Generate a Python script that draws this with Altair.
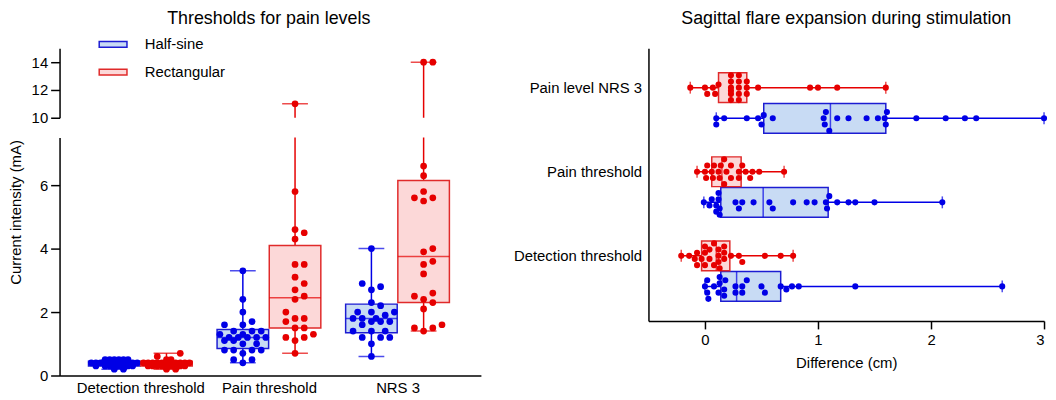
import math
import altair as alt
import pandas as pd

# ---------------- data ----------------
left_groups = ["Detection threshold", "Pain threshold", "NRS 3"]
series_names = ["Half-sine", "Rectangular"]

# current intensity (mA), individual subjects
det_half_sine = [0.2, 0.2, 0.3, 0.3, 0.3, 0.3, 0.3, 0.3, 0.4, 0.4, 0.4, 0.4, 0.4,
                 0.4, 0.4, 0.4, 0.4, 0.4, 0.4, 0.5, 0.5, 0.5, 0.5, 0.5, 0.5]
det_rect = [0.2, 0.2, 0.3, 0.3, 0.3, 0.3, 0.3, 0.3, 0.3, 0.4, 0.4, 0.4, 0.4,
            0.4, 0.4, 0.4, 0.4, 0.4, 0.4, 0.4, 0.4, 0.5, 0.5, 0.6, 0.7]
pain_half_sine = [3.3, 2.4, 2.0, 1.7, 1.6, 1.6, 1.4, 1.4, 1.4, 1.3, 1.3, 1.2, 1.2,
                  1.2, 1.2, 1.2, 1.1, 1.1, 1.0, 1.0, 0.8, 0.8, 0.8, 0.8, 0.7, 0.5, 0.5, 0.4]
pain_rect = [11.0, 5.8, 4.6, 4.5, 4.3, 3.5, 3.5, 3.1, 2.9, 2.7, 2.5, 2.4, 2.0,
             1.8, 1.8, 1.7, 1.5, 1.5, 1.3, 1.2, 1.2, 1.1, 0.7]
nrs_half_sine = [4.0, 2.9, 2.8, 2.7, 2.3, 2.2, 2.0, 2.0, 2.0, 1.9, 1.8, 1.8, 1.8,
                 1.7, 1.7, 1.7, 1.6, 1.4, 1.4, 1.4, 1.2, 1.2, 1.2, 1.0, 0.6]
nrs_rect = [14.0, 14.0, 6.6, 6.3, 5.8, 5.6, 5.6, 5.5, 4.0, 3.9, 3.6, 3.5, 3.2,
            2.6, 2.5, 2.4, 2.3, 2.1, 1.6, 1.5, 1.5, 1.4]

# box statistics: [min, q1, median, q3, max]
box_det_half_sine = [0.2, 0.3, 0.4, 0.45, 0.5]
box_det_rect = [0.2, 0.3, 0.4, 0.45, 0.7]
box_pain_half_sine = [0.4, 0.85, 1.2, 1.45, 3.3]
box_pain_rect = [0.7, 1.5, 2.45, 4.1, 11.0]
box_nrs_half_sine = [0.6, 1.35, 1.8, 2.25, 4.0]
box_nrs_rect = [1.4, 2.3, 3.75, 6.15, 14.0]

right_groups = ["Pain level NRS 3", "Pain threshold", "Detection threshold"]

# sagittal flare expansion difference (cm)
flare_nrs_half_sine = [0.10, 0.10, 0.17, 0.37, 0.47, 0.50, 0.52, 0.60, 1.05, 1.06, 1.07, 1.10,
                       1.17, 1.27, 1.43, 1.53, 1.59, 1.60, 1.61, 1.87, 2.13, 2.30, 2.40, 3.00]
flare_nrs_rect = [-0.13, 0.00, 0.02, 0.07, 0.09, 0.12, 0.23, 0.23, 0.23, 0.23, 0.23, 0.23,
                  0.30, 0.30, 0.30, 0.30, 0.30, 0.37, 0.37, 0.37, 0.47, 0.93, 1.00, 1.17, 1.60]
flare_pain_half_sine = [-0.01, 0.04, 0.06, 0.10, 0.10, 0.12, 0.12, 0.13, 0.13, 0.27, 0.30, 0.33,
                        0.43, 0.57, 0.60, 0.78, 0.90, 0.97, 1.07, 1.08, 1.10, 1.17, 1.27, 1.33,
                        1.50, 2.10]
flare_pain_rect = [-0.07, 0.00, 0.01, 0.02, 0.06, 0.07, 0.08, 0.12, 0.13, 0.14, 0.17, 0.17,
                   0.19, 0.23, 0.23, 0.30, 0.30, 0.33, 0.36, 0.40, 0.42, 0.48, 0.70]
flare_det_half_sine = [0.00, 0.02, 0.02, 0.03, 0.08, 0.12, 0.13, 0.13, 0.17, 0.17, 0.18, 0.27,
                       0.27, 0.33, 0.33, 0.37, 0.50, 0.53, 0.67, 0.72, 0.77, 0.83, 1.33, 2.63]
flare_det_rect = [-0.21, -0.14, -0.09, -0.07, -0.07, -0.03, 0.00, 0.00, 0.00, 0.04, 0.04, 0.08,
                  0.08, 0.12, 0.12, 0.12, 0.13, 0.17, 0.17, 0.17, 0.23, 0.30, 0.33, 0.53,
                  0.67, 0.78]

box_flare_nrs_half_sine = [0.10, 0.52, 1.11, 1.60, 3.00]
box_flare_nrs_rect = [-0.13, 0.12, 0.23, 0.37, 1.60]
box_flare_pain_half_sine = [-0.01, 0.14, 0.515, 1.09, 2.10]
box_flare_pain_rect = [-0.07, 0.06, 0.15, 0.32, 0.70]
box_flare_det_half_sine = [0.00, 0.14, 0.28, 0.67, 2.63]
box_flare_det_rect = [-0.21, -0.03, 0.10, 0.22, 0.78]

left_values = {
    "Detection threshold": {"Half-sine": det_half_sine, "Rectangular": det_rect},
    "Pain threshold": {"Half-sine": pain_half_sine, "Rectangular": pain_rect},
    "NRS 3": {"Half-sine": nrs_half_sine, "Rectangular": nrs_rect},
}
left_boxes = {
    "Detection threshold": {"Half-sine": box_det_half_sine, "Rectangular": box_det_rect},
    "Pain threshold": {"Half-sine": box_pain_half_sine, "Rectangular": box_pain_rect},
    "NRS 3": {"Half-sine": box_nrs_half_sine, "Rectangular": box_nrs_rect},
}
right_values = {
    "Pain level NRS 3": {"Half-sine": flare_nrs_half_sine, "Rectangular": flare_nrs_rect},
    "Pain threshold": {"Half-sine": flare_pain_half_sine, "Rectangular": flare_pain_rect},
    "Detection threshold": {"Half-sine": flare_det_half_sine, "Rectangular": flare_det_rect},
}
right_boxes = {
    "Pain level NRS 3": {"Half-sine": box_flare_nrs_half_sine, "Rectangular": box_flare_nrs_rect},
    "Pain threshold": {"Half-sine": box_flare_pain_half_sine, "Rectangular": box_flare_pain_rect},
    "Detection threshold": {"Half-sine": box_flare_det_half_sine, "Rectangular": box_flare_det_rect},
}

# ---------------- styling ----------------
FONT = "Liberation Sans"
DOT_COLORS = ["#0000e6", "#e60000"]
LINE_COLORS = ["#1c1cd2", "#e02a2a"]
FILL_COLORS = ["#c8dbf4", "#fcd8d8"]


def swarm(values, px_per_unit, diam, step, max_half):
    """Beeswarm offsets (pixels) so that dots of equal value sit side by side."""
    order = sorted(range(len(values)), key=lambda i: values[i])
    cands = [0.0]
    k = 1
    while k * step <= max_half + 1e-9:
        cands += [k * step, -k * step]
        k += 1
    placed, out = [], [0.0] * len(values)
    for i in order:
        p = values[i] * px_per_unit
        best, best_d = 0.0, -1.0
        for c in cands:
            d = min([math.hypot(p - q, c - o) for q, o in placed] or [1e9])
            if d >= diam:
                best = c
                break
            if d > best_d:
                best, best_d = c, d
        out[i] = best
        placed.append((p, best))
    return out


# ---------------- left tables ----------------
L_PX_Y, L_PX_X, L_SHIFT = 32.0, 133.0, 0.203
pts, boxes = [], []
for gi, g in enumerate(left_groups):
    for si, s in enumerate(series_names):
        base = gi + (L_SHIFT if si else -L_SHIFT)
        vals = left_values[g][s]
        for v, o in zip(vals, swarm(vals, L_PX_Y, 9.0, 4.75, 24.0)):
            pts.append({"group": g, "series": s, "value": v, "xpos": base + o / L_PX_X})
        st = left_boxes[g][s]
        boxes.append({"group": g, "series": s, "xc": base, "lo": st[0], "q1": st[1],
                      "med": st[2], "q3": st[3], "hi": st[4]})
left_pts = pd.DataFrame(pts)
left_box = pd.DataFrame(boxes)

# ---------------- right tables ----------------
R_PX_X, R_PX_Y, R_SHIFT = 114.0, 88.0, 0.364
pts, boxes = [], []
for gi, g in enumerate(right_groups):
    for si, s in enumerate(series_names):
        base = gi + (0.0 if s == "Rectangular" else R_SHIFT)
        vals = right_values[g][s]
        for v, o in zip(vals, swarm(vals, R_PX_X, 6.5, 3.25, 15.0)):
            pts.append({"group": g, "series": s, "value": v, "ypos": base + o / R_PX_Y})
        st = right_boxes[g][s]
        boxes.append({"group": g, "series": s, "yc": base, "lo": st[0], "q1": st[1],
                      "med": st[2], "q3": st[3], "hi": st[4]})
right_pts = pd.DataFrame(pts)
right_box = pd.DataFrame(boxes)


def label_expr(names):
    expr = "''"
    for i in reversed(range(len(names))):
        expr = f"datum.value == {i} ? '{names[i]}' : {expr}"
    return expr


# the dark colour scale lists the domain in reverse order so that its (hidden) legend
# is kept apart from the fill/stroke legend
color_enc = alt.Color("series:N",
                      scale=alt.Scale(domain=series_names[::-1], range=DOT_COLORS[::-1]),
                      legend=None)


def fill_stroke(legend):
    return dict(
        fill=alt.Fill("series:N", scale=alt.Scale(domain=series_names, range=FILL_COLORS), legend=legend),
        stroke=alt.Stroke("series:N", scale=alt.Scale(domain=series_names, range=LINE_COLORS), legend=legend),
    )


axis_common = dict(labelFont=FONT, labelFontSize=15, labelColor="black", domainColor="black",
                   domainWidth=1.5, tickColor="black", tickWidth=1.5, grid=False,
                   labelOverlap=False, titleFont=FONT, titleFontSize=15,
                   titleFontWeight="normal", titleColor="black")


def left_panel(ydomain, height, yvalues, x_axis, legend, ytitle):
    xsc = alt.Scale(domain=[-0.59, 2.61], nice=False, zero=False)
    ysc = alt.Scale(domain=ydomain, nice=False, zero=False)
    if ytitle:
        yaxis = alt.Axis(values=yvalues, format="d", tickSize=9, labelPadding=3, title=ytitle,
                         titleX=-36, titleY=75, titleAngle=270, titleAlign="center",
                         titleBaseline="bottom", **axis_common)
    else:
        yaxis = alt.Axis(values=yvalues, format="d", tickSize=9, labelPadding=3, title=None,
                         **axis_common)

    def X(field):
        return alt.X(field, scale=xsc, axis=x_axis)

    def Y(field):
        return alt.Y(field, scale=ysc, axis=yaxis)

    bb = alt.Chart(left_box)
    whisk = bb.mark_rule(clip=True, strokeWidth=1.5).encode(
        x=X("xc:Q"), y=Y("lo:Q"), y2="hi:Q", color=color_enc)
    cap_lo = bb.mark_tick(orient="horizontal", size=26, thickness=1.5, clip=True).encode(
        x=X("xc:Q"), y=Y("lo:Q"), color=color_enc)
    cap_hi = bb.mark_tick(orient="horizontal", size=26, thickness=1.5, clip=True).encode(
        x=X("xc:Q"), y=Y("hi:Q"), color=color_enc)
    box = bb.mark_bar(size=52, clip=True, strokeWidth=1.5).encode(
        x=X("xc:Q"), y=Y("q1:Q"), y2="q3:Q", **fill_stroke(legend))
    med = bb.mark_tick(orient="horizontal", size=52, thickness=1.5, clip=True).encode(
        x=X("xc:Q"), y=Y("med:Q"), color=color_enc)
    dots = alt.Chart(left_pts).mark_circle(size=46, opacity=1, clip=True).encode(
        x=X("xpos:Q"), y=Y("value:Q"), color=color_enc)
    return alt.layer(whisk, cap_lo, cap_hi, box, med, dots).properties(width=425, height=height)


legend = alt.Legend(title=None, orient="none", legendX=39, legendY=-19,
                    symbolType="M-1,-0.2H1V0.2H-1Z", symbolSize=784, symbolStrokeWidth=1.5,
                    labelFont=FONT, labelFontSize=15, labelColor="black",
                    labelOffset=17, rowPadding=5)

x_axis_left = alt.Axis(values=[0, 1, 2], labelExpr=label_expr(left_groups), ticks=False, tickSize=0,
                       labelPadding=5, title=None, **axis_common)

upper = left_panel([10, 15], 70, [10, 12, 14], None, legend, None)
lower = left_panel([0, 7.5], 240, [0, 2, 4, 6], x_axis_left, None, "Current intensity (mA)")

left = alt.vconcat(upper, lower, spacing=20, bounds="flush").properties(
    title=alt.Title("Thresholds for pain levels", fontSize=18, font=FONT, fontWeight="normal",
                    color="black", anchor="middle", offset=21, dx=24)
)

# ---------------- right panel ----------------
rxs = alt.Scale(domain=[-0.5, 3], nice=False, zero=False)
rys = alt.Scale(domain=[-0.409, 2.716], nice=False, zero=False, reverse=True)
rx_axis = alt.Axis(values=[0, 1, 2, 3], format="d", tickSize=8, labelPadding=4,
                   title="Difference (cm)", titlePadding=8, **axis_common)
ry_axis = alt.Axis(values=[0, 1, 2], labelExpr=label_expr(right_groups), ticks=False, tickSize=0,
                   labelPadding=7, title=None, **axis_common)


def RX(field):
    return alt.X(field, scale=rxs, axis=rx_axis)


def RY(field):
    return alt.Y(field, scale=rys, axis=ry_axis)


rb = alt.Chart(right_box)
r_whisk = rb.mark_rule(strokeWidth=1.5).encode(
    x=RX("lo:Q"), x2="hi:Q", y=RY("yc:Q"), color=color_enc)
r_cap_lo = rb.mark_tick(orient="vertical", size=12, thickness=1.5).encode(
    x=RX("lo:Q"), y=RY("yc:Q"), color=color_enc)
r_cap_hi = rb.mark_tick(orient="vertical", size=12, thickness=1.5).encode(
    x=RX("hi:Q"), y=RY("yc:Q"), color=color_enc)
r_box = rb.mark_bar(size=30, strokeWidth=1.5).encode(
    x=RX("q1:Q"), x2="q3:Q", y=RY("yc:Q"), **fill_stroke(None))
r_med = rb.mark_tick(orient="vertical", size=30, thickness=1.5).encode(
    x=RX("med:Q"), y=RY("yc:Q"), color=color_enc)
r_dots = alt.Chart(right_pts).mark_circle(size=38, opacity=1).encode(
    x=RX("value:Q"), y=RY("ypos:Q"), color=color_enc)

right = alt.layer(r_whisk, r_cap_lo, r_cap_hi, r_box, r_med, r_dots).properties(
    width=399, height=275,
    title=alt.Title("Sagittal flare expansion during stimulation", fontSize=18, font=FONT,
                    fontWeight="normal", color="black", anchor="middle", frame="group", offset=21),
)

chart = alt.hconcat(left, right, spacing=32).properties(padding=0).configure(
    font=FONT, view=alt.ViewConfig(stroke=None)
).configure_axis(labelOverlap=False)

chart.save("out.html", embed_options={"renderer": "svg", "actions": False})
